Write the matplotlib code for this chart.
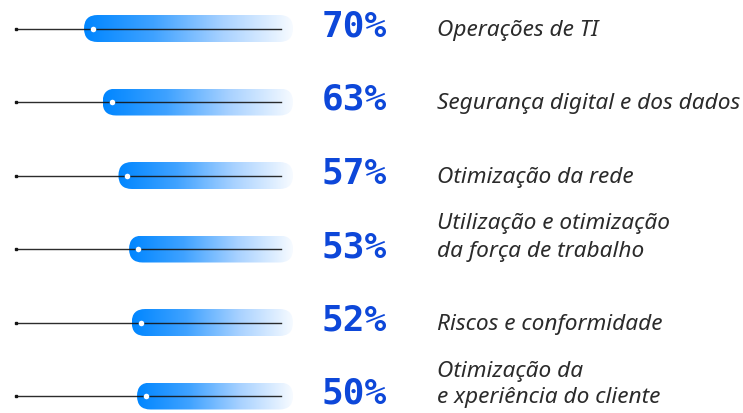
import numpy as np
import matplotlib.pyplot as plt
from matplotlib.patches import FancyBboxPatch
from matplotlib.colors import LinearSegmentedColormap

# --- 1. Data ---
values = [70, 63, 57, 53, 52, 50]
labels = [
    "Operações de TI",
    "Segurança digital e dos dados",
    "Otimização da rede",
    "Utilização e otimização\nda força de trabalho",
    "Riscos e conformidade",
    "Otimização da\ne xperiência do cliente",
]

# --- 2. Layout (pixel based scale: value -> left edge of the pill) ---
W, H = 743, 414
px_per_pct = 2.65
x_zero = 269.5          # pixel where 0% would sit
row0, row_step = 29.5, 73.5

# axis limits so that data units map straight to pixels
xlim = ((x_zero - 0) / px_per_pct, (x_zero - W) / px_per_pct)
ylim = ((H - row0) / row_step, (0 - row0) / row_step)

def px2x(px):
    return (x_zero - px) / px_per_pct

line_start, line_end = px2x(16), px2x(281)
pill_end = px2x(293)
pct_x, label_x = px2x(322), px2x(437)
pill_h = 27 / row_step
round_x = 13.5 / px_per_pct

cmap = LinearSegmentedColormap.from_list(
    "pill", ["#0086ff", "#3fa2ff", "#a9d2ff", "#f7fbff"])
grad = np.linspace(0, 1, 256).reshape(1, -1)

# --- 3. Visualization ---
fig = plt.figure(figsize=(W / 100, H / 100), dpi=100)
ax = fig.add_axes([0, 0, 1, 1])
ax.set_xlim(*xlim)
ax.set_ylim(*ylim)
ax.axis("off")

for i, (v, lab) in enumerate(zip(values, labels)):
    # gradient pill
    pill = FancyBboxPatch((pill_end, i - pill_h / 2), v - pill_end, pill_h,
                          boxstyle=f"round,pad=0,rounding_size={round_x}",
                          mutation_aspect=(pill_h / 2) / round_x,
                          facecolor="none", edgecolor="none")
    ax.add_patch(pill)
    im = ax.imshow(grad, cmap=cmap, aspect="auto",
                   extent=(v, pill_end, i + pill_h / 2, i - pill_h / 2),
                   interpolation="bicubic", zorder=1)
    im.set_clip_path(pill)

    # thin line with a square end
    ax.plot([line_start, line_end], [i, i], color="#151515", lw=1.0,
            alpha=0.9, zorder=2)
    ax.plot(line_start, i, marker="s", ms=1.8, color="#151515", zorder=3)

    # white dot at the value
    ax.plot(v - 9 / px_per_pct, i, marker="o", ms=4, color="white",
            mec="none", zorder=4)

    # percentage
    ax.annotate(f"{v}%", (pct_x, i), xytext=(0, 3), textcoords="offset pixels",
                ha="left", va="center", fontsize=26, fontweight="bold",
                family="DejaVu Sans Mono", color="#0d47d9")

    # label, last line aligned with the bar
    lines = lab.split("\n")
    for k, line in enumerate(reversed(lines)):
        ax.annotate(line, (label_x, i), xytext=(0, -1 + 27 * k),
                    textcoords="offset pixels", ha="left", va="center",
                    fontsize=16.3, style="italic", family="Noto Sans",
                    color="#2b2b2b")

plt.savefig("out.png", dpi=100)
